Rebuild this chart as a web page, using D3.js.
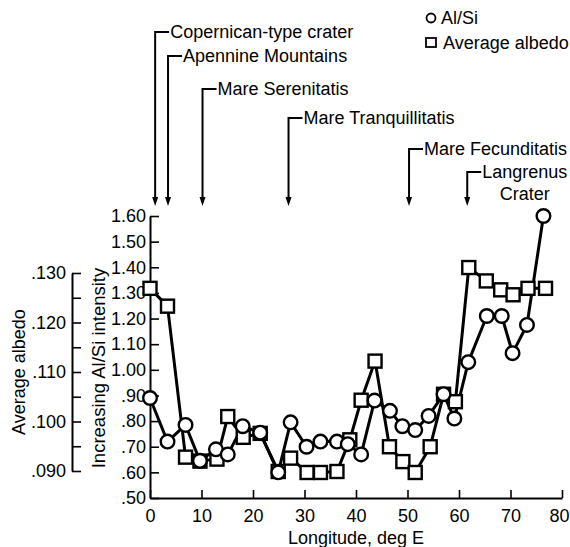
<!DOCTYPE html>
<html>
<head>
<meta charset="utf-8">
<script src="https://cdn.jsdelivr.net/npm/d3@7"></script>
<style>
  html, body { margin: 0; padding: 0; background: #fff; }
  svg { display: block; font-family: "Liberation Sans", Arial, sans-serif; }
  text { fill: #000; }
</style>
</head>
<body>
<svg id="chart" width="570" height="547"></svg>
<script>
// Longitude (deg E) of each Al/Si measurement and its relative intensity
const alSiLongitude = [0, 3.4, 6.9, 9.7, 12.8, 15.1, 18.0, 21.4, 24.9, 27.3, 30.4, 33.1, 36.3, 38.4,
  41.0, 43.6, 46.6, 49.0, 51.5, 54.1, 57.0, 59.1, 61.8, 65.4, 68.3, 70.4, 73.2, 76.4];
const alSiValues = [0.89, 0.72, 0.785, 0.645, 0.69, 0.67, 0.78, 0.755, 0.60, 0.795, 0.70, 0.72, 0.72, 0.71,
  0.67, 0.88, 0.84, 0.78, 0.765, 0.82, 0.905, 0.81, 1.03, 1.21, 1.21, 1.065, 1.175, 1.60];

// Longitude (deg E) of each albedo measurement and the average albedo
const albedoLongitude = [0, 3.4, 6.9, 9.7, 13.0, 15.1, 18.1, 21.4, 24.9, 27.3, 30.5, 33.1, 36.3, 38.8,
  41.0, 43.7, 46.5, 49.1, 51.5, 54.4, 57.0, 59.3, 61.9, 65.3, 68.1, 70.5, 73.4, 76.8];
const albedoValues = [0.1269, 0.1233, 0.0928, 0.0920, 0.0924, 0.1010, 0.0968, 0.0976, 0.0899, 0.0926,
  0.0897, 0.0897, 0.0899, 0.0963, 0.1043, 0.1122, 0.0949, 0.0919, 0.0897, 0.0949, 0.1055, 0.1040,
  0.1311, 0.1284, 0.1266, 0.1256, 0.1269, 0.1269];

// Surface features crossed by the ground track
const featureNames = ["Copernican-type crater", "Apennine Mountains", "Mare Serenitatis",
  "Mare Tranquillitatis", "Mare Fecunditatis", "Langrenus"];
const featureLongitude = [1.0, 3.5, 10.2, 26.9, 50.3, 61.6];

// Tick values and labels
const xTicks = [0, 10, 20, 30, 40, 50, 60, 70, 80];
const alSiTicks = [0.5, 0.6, 0.7, 0.8, 0.9, 1.0, 1.1, 1.2, 1.3, 1.4, 1.5, 1.6];
const alSiTickLabels = [".50", ".60", ".70", ".80", ".90", "1.00", "1.10", "1.20", "1.30", "1.40", "1.50", "1.60"];
const albedoTicks = [0.090, 0.095, 0.100, 0.105, 0.110, 0.115, 0.120, 0.125, 0.130];
const albedoTickLabels = [".090", "", ".100", "", ".110", "", ".120", "", ".130"];

const svg = d3.select("#chart");

const x = d3.scaleLinear().domain([0, 80]).range([150, 562]);
const yAlSi = d3.scaleLinear().domain([0.5, 1.6]).range([498, 216]);
const yAlbedo = d3.scaleLinear().domain([0.090, 0.130]).range([471, 273]);

const FONT = 18;

function styleAxis(g) {
  g.select(".domain").attr("stroke", "#000").attr("stroke-width", 2);
  g.selectAll(".tick line").attr("stroke", "#000").attr("stroke-width", 1.6);
  g.selectAll(".tick text").attr("font-size", FONT).attr("font-family", "Liberation Sans, Arial, sans-serif").attr("fill", "#000");
}

// Longitude axis
const xAxisG = svg.append("g")
  .attr("transform", `translate(0,${yAlSi(0.5)})`)
  .call(d3.axisBottom(x).tickValues(xTicks).tickSizeInner(-8).tickSizeOuter(0).tickPadding(11))
  .call(styleAxis);
// keep the last label inside the frame
xAxisG.selectAll(".tick text").filter(d => d === 80).attr("dx", -3);

// Al/Si intensity axis
svg.append("g")
  .attr("transform", `translate(${x(0)},0)`)
  .call(d3.axisLeft(yAlSi).tickValues(alSiTicks)
    .tickFormat((d, i) => alSiTickLabels[i])
    .tickSizeInner(-9).tickSizeOuter(0).tickPadding(4))
  .call(styleAxis);

// Average albedo axis
svg.append("g")
  .attr("transform", "translate(72,0)")
  .call(d3.axisLeft(yAlbedo).tickValues(albedoTicks)
    .tickFormat((d, i) => albedoTickLabels[i])
    .tickSizeInner(-9).tickSizeOuter(0).tickPadding(6))
  .call(styleAxis);

// Axis titles
svg.append("text")
  .attr("x", x(40)).attr("y", 538)
  .attr("text-anchor", "middle").attr("dominant-baseline", "central")
  .attr("font-size", FONT)
  .text("Longitude, deg E");

svg.append("text")
  .attr("transform", "translate(98,368) rotate(-90)")
  .attr("text-anchor", "middle").attr("dominant-baseline", "central")
  .attr("font-size", 18.5)
  .text("Increasing Al/Si intensity");

svg.append("text")
  .attr("transform", "translate(19,372) rotate(-90)")
  .attr("text-anchor", "middle").attr("dominant-baseline", "central")
  .attr("font-size", FONT)
  .text("Average albedo");

// Series
const albedoPts = albedoLongitude.map((lon, i) => [x(lon), yAlbedo(albedoValues[i])]);
const alSiPts = alSiLongitude.map((lon, i) => [x(lon), yAlSi(alSiValues[i])]);
const line = d3.line();

svg.append("path").attr("d", line(albedoPts))
  .attr("fill", "none").attr("stroke", "#000").attr("stroke-width", 3).attr("stroke-linejoin", "round");
svg.append("path").attr("d", line(alSiPts))
  .attr("fill", "none").attr("stroke", "#000").attr("stroke-width", 3).attr("stroke-linejoin", "round");

const SQ = 13;
svg.append("g").selectAll("rect").data(albedoPts).join("rect")
  .attr("x", d => d[0] - SQ / 2).attr("y", d => d[1] - SQ / 2)
  .attr("width", SQ).attr("height", SQ)
  .attr("fill", "#fff").attr("stroke", "#000").attr("stroke-width", 2.4);

svg.append("g").selectAll("circle").data(alSiPts).join("circle")
  .attr("cx", d => d[0]).attr("cy", d => d[1]).attr("r", 6.8)
  .attr("fill", "#fff").attr("stroke", "#000").attr("stroke-width", 2.4);

// Feature callouts: bracket, leader line and arrowhead
const labelRows = [32, 56, 89, 118, 149, 172];
const arrowTip = 206;
const callouts = svg.append("g");
let lastLabel = null;
featureNames.forEach((name, i) => {
  const fx = x(featureLongitude[i]);
  const ly = labelRows[i];
  callouts.append("path")
    .attr("d", `M${fx + 14},${ly}H${fx}V${arrowTip - 7}`)
    .attr("fill", "none").attr("stroke", "#000").attr("stroke-width", 2);
  callouts.append("path")
    .attr("d", `M${fx - 3},${arrowTip - 9}L${fx + 3},${arrowTip - 9}L${fx},${arrowTip}Z`)
    .attr("fill", "#000");
  lastLabel = callouts.append("text")
    .attr("x", fx + 15).attr("y", ly)
    .attr("dominant-baseline", "central")
    .attr("font-size", FONT)
    .text(name);
});
// second line of the Langrenus label, centred beneath it
const lx = +lastLabel.attr("x") + lastLabel.node().getComputedTextLength() / 2;
callouts.append("text")
  .attr("x", lx).attr("y", 194)
  .attr("text-anchor", "middle")
  .attr("dominant-baseline", "central")
  .attr("font-size", FONT)
  .text("Crater");

// Legend
const legend = svg.append("g");
legend.append("circle").attr("cx", 431).attr("cy", 18).attr("r", 4.5)
  .attr("fill", "#fff").attr("stroke", "#000").attr("stroke-width", 1.8);
legend.append("text").attr("x", 441).attr("y", 18).attr("dominant-baseline", "central")
  .attr("font-size", FONT).text("Al/Si");
legend.append("rect").attr("x", 426).attr("y", 38).attr("width", 10).attr("height", 9)
  .attr("fill", "#fff").attr("stroke", "#000").attr("stroke-width", 1.8);
legend.append("text").attr("x", 443).attr("y", 43).attr("dominant-baseline", "central")
  .attr("font-size", FONT).text("Average albedo");
</script>
</body>
</html>
